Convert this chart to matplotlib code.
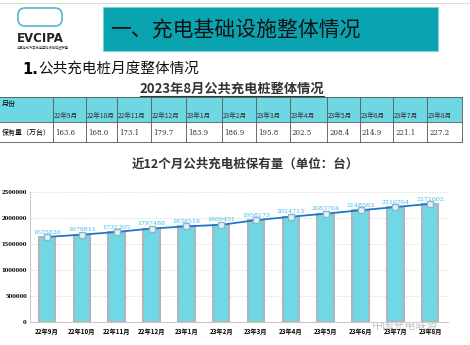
import matplotlib
matplotlib.use("Agg")
import matplotlib.pyplot as plt
from matplotlib.patches import Rectangle, FancyBboxPatch
from matplotlib.ticker import FuncFormatter

plt.rcParams['font.family'] = ['Noto Sans CJK SC', 'DejaVu Sans']

months = ["22年9月", "22年10月", "22年11月", "22年12月", "23年1月", "23年2月",
          "23年3月", "23年4月", "23年5月", "23年6月", "23年7月", "23年8月"]
stock_wan = [163.6, 168.0, 173.1, 179.7, 183.9, 186.9,
             195.8, 202.5, 208.4, 214.9, 221.1, 227.2]
stock = [1635826, 1679811, 1731305, 1797488, 1838518, 1869451,
         1958173, 2024713, 2083764, 2148583, 2210704, 2271602]

W, H = 470, 345
fig = plt.figure(figsize=(W / 100, H / 100), dpi=100)
fig.patch.set_facecolor("white")

# overlay in pixel coords (y downwards)
ov = fig.add_axes([0, 0, 1, 1])
ov.set_xlim(0, W)
ov.set_ylim(H, 0)
ov.axis("off")

ov.plot([0, W], [3, 3], color="#dddddd", lw=0.8)

# logo
ov.add_patch(FancyBboxPatch((20, 10), 40, 14, boxstyle="round,pad=2,rounding_size=7",
                            fill=False, ec="#4fb8c8", lw=1.2))
ov.text(17, 38, "EVCIPA", fontsize=8.5, fontweight="bold", color="#222222",
        family=["DejaVu Sans"], va="center")
ov.text(17, 48, "中国电动汽车充电基础设施促进联盟", fontsize=2.3, color="#333333", va="center")

# title box
ov.add_patch(Rectangle((103, 7), 335, 44, fc="#0aa3b0", ec="#7fd0d8", lw=0.8))
ov.text(110, 30, "一、充电基础设施整体情况", fontsize=15, color="#111111", va="center")

ov.text(22, 69, "1.", fontsize=10.5, fontweight="bold", va="center", family=["DejaVu Sans"])
ov.text(38, 69, "公共充电桩月度整体情况", fontsize=10.5, va="center", color="#111111")

# table
ov.text(232, 89, "2023年8月公共充电桩整体情况", fontsize=9.5, ha="center", va="center",
        color="#333333", fontweight="bold")
ov.plot([140, 324], [96, 96], color="#333333", lw=0.8)

col_x = [0, 53, 86, 117, 151, 186, 222, 256, 290, 327, 360, 393, 427, 462]
hy0, hy1, dy1 = 97, 122, 142
ov.add_patch(Rectangle((0, hy0), col_x[-1], hy1 - hy0, fc="#6dd8e4", ec="none"))
ov.plot([0, col_x[-1]], [hy0, hy0], color="#555555", lw=0.6)
ov.plot([0, col_x[-1]], [hy1, hy1], color="#555555", lw=0.6)
ov.plot([0, col_x[-1]], [dy1, dy1], color="#555555", lw=0.6)
for x in col_x[1:]:
    ov.plot([x, x], [hy0, dy1], color="#555555", lw=0.6)
ov.text(2, 104, "月份", fontsize=5, va="center")
ov.text(2, 133, "保有量（万台）", fontsize=5, va="center")
for i, (m, v) in enumerate(zip(months, stock_wan)):
    ov.text(col_x[i + 1] + 1, 116, m, fontsize=4.8, va="center", color="#333333")
    ov.text(col_x[i + 1] + 2, 133, f"{v:.1f}", fontsize=5, va="center",
            family=["DejaVu Serif"], color="#333333")

ov.text(245, 164, "近12个月公共充电桩保有量（单位：台）", fontsize=9, ha="center",
        va="center", fontweight="bold", color="#333333")

# chart
ax = fig.add_axes([29.6 / W, (H - 322) / H, 418 / W, 130 / H])
x = list(range(len(months)))
ax.bar(x, stock, width=0.47, color="#6fd8e4", edgecolor="#b0b4bc", linewidth=1.5, zorder=2)
ax.plot(x, stock, color="#1f77c8", lw=1.3, marker="s", markersize=4.5,
        markerfacecolor="#dff2f8", markeredgecolor="#8fb6c8", zorder=3)
for xi, v in zip(x, stock):
    ax.text(xi, v + 45000, str(v), ha="center", va="bottom", fontsize=4.5,
            color="#3ab8ea", family=["DejaVu Serif"], zorder=4)
ax.set_xlim(-0.5, 11.5)
ax.set_ylim(0, 2500000)
ax.set_yticks([0, 500000, 1000000, 1500000, 2000000, 2500000])
ax.yaxis.set_major_formatter(FuncFormatter(lambda v, p: f"{int(v)}"))
ax.set_xticks(x)
ax.set_xticklabels(months, fontsize=4.5, fontweight="bold")
for t in ax.get_yticklabels():
    t.set_fontsize(3.8)
    t.set_fontweight("bold")
    t.set_family(["DejaVu Serif"])
ax.tick_params(axis="x", length=0, pad=4)
ax.tick_params(axis="y", length=0, pad=2)
ax.grid(axis="y", color="#dddddd", ls="--", lw=0.5, zorder=0)
for s in ["top", "right"]:
    ax.spines[s].set_visible(False)
ax.spines["left"].set_color("#cccccc")
ax.spines["bottom"].set_color("#cccccc")

ov.text(405, 325, "中国充电联盟", fontsize=8, color="#999999", alpha=0.6,
        ha="center", va="center")

fig.savefig("out.png", dpi=100)
